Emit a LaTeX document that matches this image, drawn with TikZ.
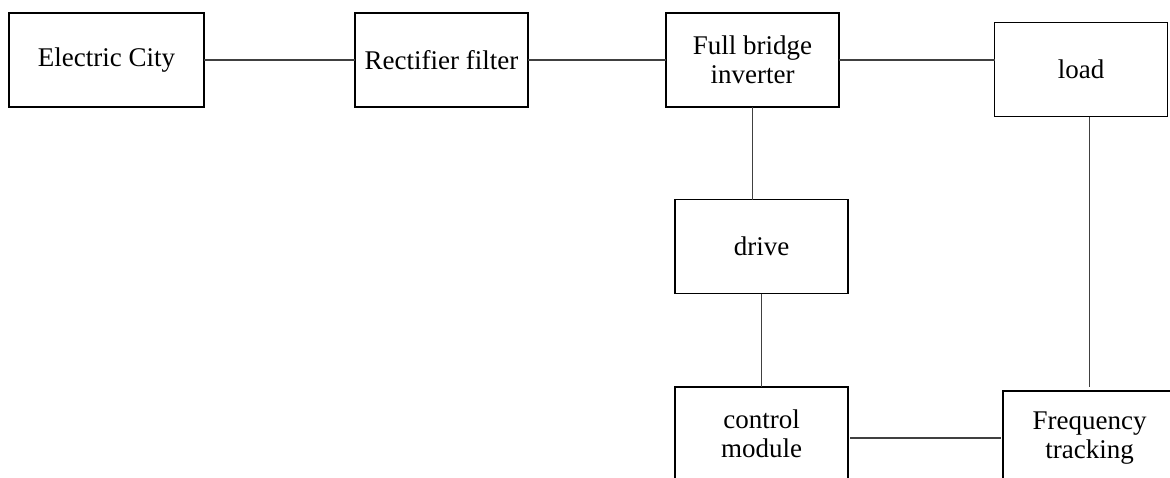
\documentclass[tikz,border=0pt]{standalone}
\usepackage{fontspec}
\setmainfont{Liberation Serif}
\usepackage{tikz}
\usetikzlibrary{positioning}

\begin{document}
\begin{tikzpicture}[
                        x=0.5pt,
                        y=-0.5pt,
                        semithick,
                        font=\fontsize{13.5}{14.5}\selectfont
                    ]
                    \tikzstyle{block}=[draw=black,line width=0.6pt,fill=white,text=black,
                                       rectangle,align=center,inner sep=0pt,outer sep=0pt,
                                       minimum width=86.5pt,minimum height=47pt]
                    \tikzstyle{wire}=[draw=black!75,line width=0.6pt]

                    \clip (0,0) rectangle (1170,477);

                    \node[block,minimum width=97.5pt] (city)  at (106.5,60)   {Electric City} ;
                    \node[block]                      (rect)  at (441.5,60)   {Rectifier filter} ;
                    \node[block]                      (inv)   at (752.5,60)   {Full bridge\\inverter} ;
                    \node[block]                      (load)  at (1081,69.5)  {load} ;
                    \node[block]                      (drive) at (761.5,246.5) {drive} ;
                    \node[block]                      (ctrl)  at (761.5,434)  {control\\module} ;
                    \node[block]                      (freq)  at (1089.5,438) {Frequency\\tracking} ;

                    \path[wire]
                    (city.east) -- (rect.west)
                    (rect.east) -- (inv.west)
                    (inv.east)  -- (inv.east -| load.west)
                    (inv.south) -- (inv.south |- drive.north)
                    (drive.south) -- (ctrl.north)
                    (freq.north |- load.south) -- ([yshift=2pt]freq.north)
                    ([xshift=1pt]ctrl.east |- freq.west) -- ([xshift=-1pt]freq.west) ;

                \end{tikzpicture}
\end{document}
